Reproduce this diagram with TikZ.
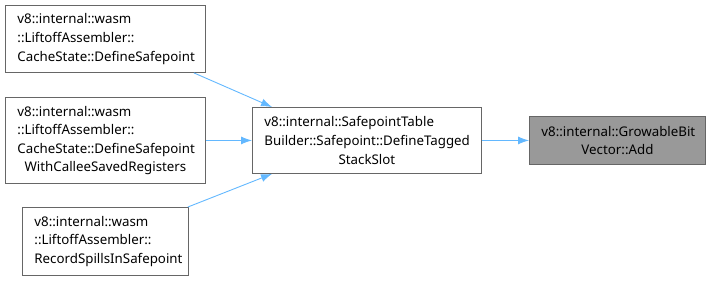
\documentclass[tikz,border=0pt]{standalone}
\usepackage{fontspec}
\setmainfont{Noto Sans}
\usetikzlibrary{arrows.meta}
\definecolor{edgeblue}{HTML}{63B8FF}
\definecolor{boxline}{HTML}{666666}
\definecolor{hilite}{HTML}{999999}
\newcommand{\lastline}[1]{\makebox[\linewidth]{#1}}
\tikzset{
  fn/.style={draw=boxline, line width=0.9pt, fill=white, inner xsep=12pt,
    inner ysep=0pt, font=\fontsize{13.3}{18.6}\selectfont, align=left,
    anchor=north west},
  current/.style={fn, fill=hilite},
  call/.style={draw=edgeblue, line width=0.9pt,
    -{Latex[length=11pt,width=8pt]}},
}
\begin{document}
\begin{tikzpicture}[x=1pt,y=-1pt]
  \useasboundingbox (0,0) rectangle (711,281);

  % callers
  \node[fn, text width=176pt, minimum height=67pt] (a) at (5,5)
    {v8::internal::wasm\\::LiftoffAssembler::\\CacheState::DefineSafepoint};
  \node[fn, text width=176pt, minimum height=86pt] (b) at (5,97)
    {v8::internal::wasm\\::LiftoffAssembler::\\CacheState::DefineSafepoint\\
     \lastline{WithCalleeSavedRegisters}};
  \node[fn, text width=142pt, minimum height=68pt] (c) at (22,207)
    {v8::internal::wasm\\::LiftoffAssembler::\\RecordSpillsInSafepoint};

  % the function itself
  \node[fn, text width=205pt, minimum height=66pt] (d) at (252,107)
    {v8::internal::SafepointTable\\Builder::Safepoint::DefineTagged\\
     \lastline{StackSlot}};

  % callee
  \node[current, text width=152pt, minimum height=48pt] (e) at (529,116)
    {v8::internal::GrowableBit\\\lastline{Vector::Add}};

  % call edges
  \draw[call] ([xshift=-12pt]a.south east) -- ([xshift=20pt]d.north west);
  \draw[call] (b.east) -- (b.east -| d.west);
  \draw[call] ([xshift=-1pt]c.north east) -- ([xshift=20pt]d.south west);
  \draw[call] (d.east) -- (d.east -| e.west);
\end{tikzpicture}
\end{document}
